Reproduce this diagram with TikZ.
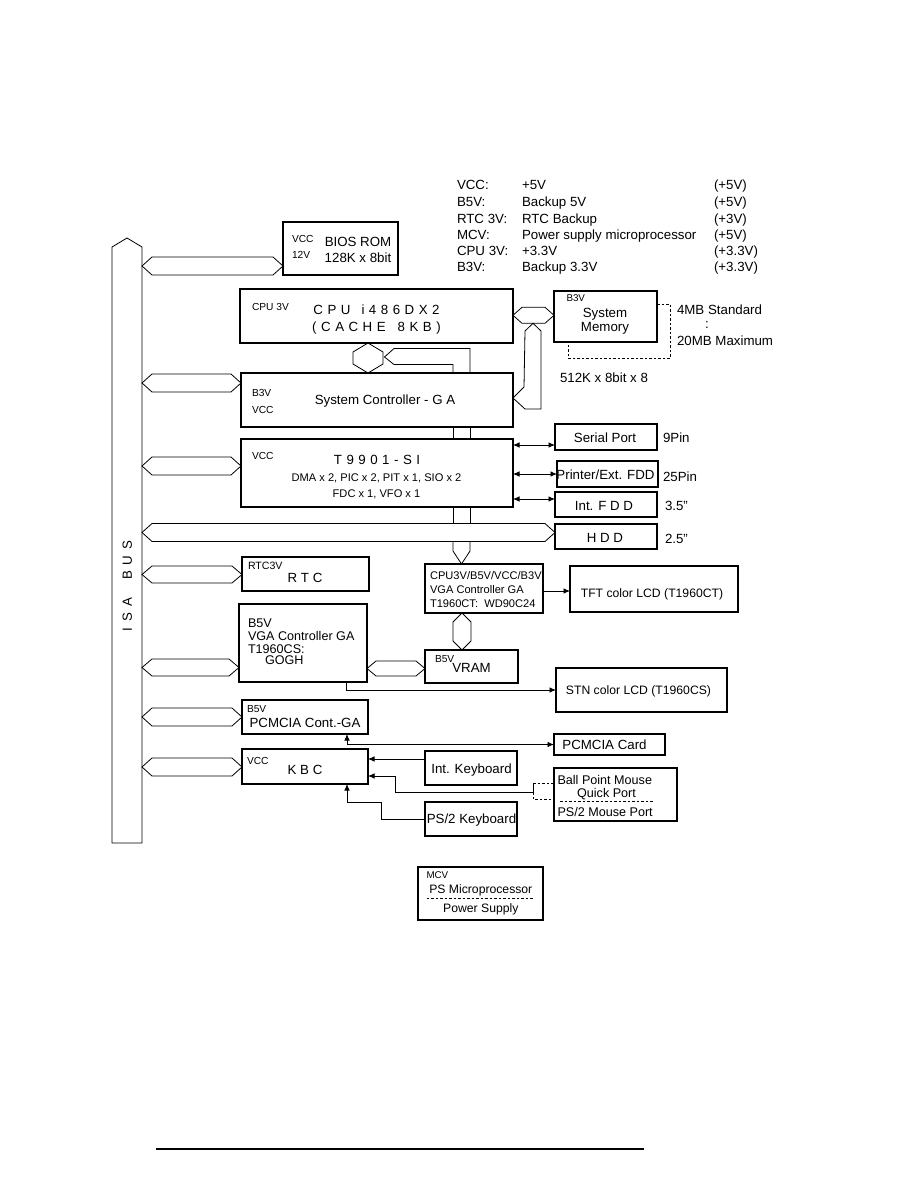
\documentclass[tikz,border=0pt]{standalone}
\usepackage{fontspec}
\setmainfont{Liberation Sans}
\usetikzlibrary{arrows.meta,calc}
\newcommand\fsz[1]{\fontsize{#1}{#1}\selectfont}
\newcommand\gp{\hspace{4.5pt}}
% horizontal double-headed bus: [tip] {left point} {right point} {half height}
\newcommand\hbus[4][10pt]{\draw[bus] let \p1=#2, \p2=#3 in (\x1,\y1) -- (\x1+#1,\y1+#4) -- (\x2-#1,\y1+#4) -- (\x2,\y1) -- (\x2-#1,\y1-#4) -- (\x1+#1,\y1-#4) -- cycle;}
% vertical double-headed bus: [tip] {top point} {bottom point} {half width}
\newcommand\vbus[4][9pt]{\draw[bus] let \p1=#2, \p2=#3 in (\x1,\y1) -- (\x1+#4,\y1-#1) -- (\x1+#4,\y2+#1) -- (\x1,\y2) -- (\x1-#4,\y2+#1) -- (\x1-#4,\y1-#1) -- cycle;}
\begin{document}
\begin{tikzpicture}[x=1pt,y=-1pt,
  every node/.style={inner sep=0pt,outer sep=0pt},
  box/.style={draw,line width=1.4pt},
  T/.style={font=\fsz{13.3},text height=9.5pt,text depth=0pt},
  Ts/.style={font=\fsz{10.2},text height=7.3pt,text depth=0pt},
  Tm/.style={font=\fsz{11.1},text height=8pt,text depth=0pt},
  Tl/.style={font=\fsz{12.6},text height=9pt,text depth=0pt},
  Tx/.style={font=\fsz{12.2},text height=8.7pt,text depth=0pt},
  bus/.style={line width=0.8pt,line join=miter},
  ln/.style={line width=0.8pt},
  arr/.style={-{Latex[length=6.5pt,width=5.5pt]}},
  darr/.style={{Latex[length=6.5pt,width=5.5pt]}-{Latex[length=6.5pt,width=5.5pt]}},
  dsh/.style={dash pattern=on 2.5pt off 2pt}]
\fill[white] (0,0) rectangle (918,1188);
\useasboundingbox (0,0) rectangle (918,1188);

% ---------------- legend
\foreach \n/\yy/\a/\b/\c in {1/185/VCC:/+5V/(+5V), 2/201.7/B5V:/Backup 5V/(+5V), 3/218.3/RTC 3V:/RTC Backup/(+3V), 4/235/MCV:/Power supply microprocessor/(+5V), 5/251/CPU 3V:/+3.3V/(+3.3V), 6/266.7/B3V:/Backup 3.3V/(+3.3V)}{
  \node[T,anchor=west] (la\n) at (457,\yy) {\a};
  \node[T,anchor=west] (lb\n) at (522,\yy) {\b};
  \node[T,anchor=west] (lc\n) at (714,\yy) {\c};
}

% ---------------- ISA bus
\node[minimum width=30pt,minimum height=596pt] (isa) at (127,545) {};
\draw[bus] (isa.south west) -- (isa.north west) -- ($(isa.north)+(0,-9)$) -- (isa.north east) -- (isa.south east) -- cycle;
\node[T,rotate=90] (isatxt) at (127,586) {I\hspace{6pt}S\hspace{6pt}A\hspace{18pt}B\hspace{6pt}U\hspace{6pt}S};

% ---------------- boxes
\node[box,minimum width=115pt,minimum height=53pt] (bios) at (340.5,248.5) {};
\node[Ts,anchor=west] (biosv1) at (292,238.5) {VCC};
\node[Ts,anchor=west] (biosv2) at (292,255) {12V};
\node[T] (biost1) at (358,242) {BIOS ROM};
\node[T] (biost2) at (358,258) {128K x 8bit};

\node[box,minimum width=273pt,minimum height=54pt] (cpu) at (376.5,316) {};
\node[Ts,anchor=west] (cpuv) at (252,307) {CPU 3V};
\node[T] (cput1) at (376.5,310) {C\gp P\gp U\hspace{11pt}i\gp 4\gp 8\gp 6\gp D\gp X\gp 2};
\node[T] (cput2) at (376.5,326.5) {(\gp C\gp A\gp C\gp H\gp E\hspace{12pt}8\gp K\gp B\gp )};

\node[box,minimum width=103pt,minimum height=51pt] (mem) at (605.5,316.5) {};
\node[font=\fsz{9.8},text height=7pt,anchor=west] (memv) at (566.5,298) {B3V};
\node[T] (memt1) at (605,313) {System};
\node[T] (memt2) at (605,327) {Memory};
\node[T,anchor=west] (memn1) at (677,310) {4MB Standard};
\node[T] (memn2) at (707,324) {:};
\node[T,anchor=west] (memn3) at (677,341) {20MB Maximum};
\node[T,anchor=west] (memn4) at (560,378) {512K x 8bit x 8};

\node[box,minimum width=272pt,minimum height=54pt] (sc) at (377,400) {};
\node[Ts,anchor=west] (scv1) at (252,393) {B3V};
\node[Ts,anchor=west] (scv2) at (252,409.5) {VCC};
\node[T] (sct) at (385,400) {System Controller - G A};

\node[box,minimum width=272pt,minimum height=68pt] (t99) at (377,473) {};
\node[Ts,anchor=west] (t99v) at (252,456) {VCC};
\node[T] (t99t1) at (377,459.5) {T\gp 9\gp 9\gp 0\gp 1\gp -\gp S\gp I};
\node[Tm] (t99t2) at (376.5,477) {DMA x 2, PIC x 2, PIT x 1, SIO x 2};
\node[Tm] (t99t3) at (376.5,493) {FDC x 1, VFO x 1};

\node[box,minimum width=102pt,minimum height=26pt] (serial) at (606,437) {};
\node[T] (serialt) at (605,437.5) {Serial Port};
\node[box,minimum width=101pt,minimum height=26pt] (printer) at (607.5,474) {};
\node[T] (printert) at (605.5,474.5) {Printer/Ext. FDD};
\node[box,minimum width=102pt,minimum height=25pt] (intfdd) at (606,504.5) {};
\node[T] (intfddt) at (604,506) {Int. F D D};
\node[box,minimum width=102pt,minimum height=25pt] (hdd) at (606,536.5) {};
\node[T] (hddt) at (605,538) {H D D};
\node[T,anchor=west] (pin9) at (663,438) {9Pin};
\node[T,anchor=west] (pin25) at (663,477) {25Pin};
\node[T,anchor=west] (in35) at (665,506) {3.5"};
\node[T,anchor=west] (in25) at (665,539) {2.5"};

\node[box,minimum width=127pt,minimum height=34pt] (rtc) at (305.5,574) {};
\node[font=\fsz{10.6},text height=7.6pt,anchor=west] (rtcv) at (248,566) {RTC3V};
\node[T] (rtct) at (305,577.5) {R T C};

\node[box,minimum width=128pt,minimum height=78pt] (vgacs) at (303,643) {};
\node[Tl,anchor=west] (vgacs1) at (248,623) {B5V};
\node[Tl,anchor=west] (vgacs2) at (248,636) {VGA Controller GA};
\node[Tl,anchor=west] (vgacs3) at (248,649) {T1960CS:};
\node[Tl,anchor=west] (vgacs4) at (265,659.5) {GOGH};

\node[box,minimum width=118pt,minimum height=49pt] (vgact) at (484,588.5) {};
\node[Tm,anchor=west] (vgact1) at (430,575) {CPU3V/B5V/VCC/B3V};
\node[Tm,anchor=west] (vgact2) at (430,589.5) {VGA Controller GA};
\node[Tm,anchor=west] (vgact3) at (430,603.5) {T1960CT:\ \ WD90C24};

\node[box,minimum width=168pt,minimum height=46pt] (tft) at (654,589) {};
\node[Tx] (tftt) at (652,593.5) {TFT color LCD (T1960CT)};

\node[box,minimum width=93pt,minimum height=33pt] (vram) at (471.5,666.5) {};
\node[Ts,anchor=west] (vramv) at (435,658.5) {B5V};
\node[T] (vramt) at (471.5,667.5) {VRAM};

\node[box,minimum width=171pt,minimum height=44pt] (stn) at (641.5,690) {};
\node[Tx] (stnt) at (638.5,690) {STN color LCD (T1960CS)};

\node[box,minimum width=126pt,minimum height=34pt] (pcmcia) at (305,717) {};
\node[Ts,anchor=west] (pcmv) at (247,708.5) {B5V};
\node[T] (pcmt) at (305,723) {PCMCIA Cont.-GA};

\node[box,minimum width=111pt,minimum height=21pt] (card) at (609.5,744.5) {};
\node[T] (cardt) at (604.5,744.5) {PCMCIA Card};

\node[box,minimum width=126pt,minimum height=35pt] (kbc) at (305,766.5) {};
\node[Ts,anchor=west] (kbcv) at (247,761) {VCC};
\node[T] (kbct) at (305,769.5) {K B C};

\node[box,minimum width=92pt,minimum height=34pt] (intkb) at (471,768) {};
\node[T] (intkbt) at (471.5,769) {Int. Keyboard};

\node[box,minimum width=123pt,minimum height=53pt] (mouse) at (615.5,794.5) {};
\node[Tl,anchor=west] (mouse1) at (557.5,780) {Ball Point Mouse};
\node[Tl] (mouse2) at (606.5,792.5) {Quick Port};
\node[Tl,anchor=west] (mouse3) at (557.5,812) {PS/2 Mouse Port};
\draw[ln,dsh] (560,801) -- (653,801);

\node[box,minimum width=92pt,minimum height=34pt] (ps2kb) at (471,819) {};
\node[T] (ps2kbt) at (471.5,818.5) {PS/2 Keyboard};

\node[box,minimum width=125pt,minimum height=53pt] (mcv) at (480.5,893.5) {};
\node[font=\fsz{9.8},text height=7pt,anchor=west] (mcvv) at (426.5,875) {MCV};
\node[Tx] (mcv1) at (480.8,889.5) {PS Microprocessor};
\draw[ln,dsh] (426.5,898) -- (533.5,898);
\node[Tx] (mcv2) at (480.8,908) {Power Supply};

% ---------------- buses to ISA
\hbus{(isa.east |- 0,266)}{(bios.west |- 0,266)}{9pt}
\hbus{(isa.east |- 0,383)}{(sc.west |- 0,383)}{9pt}
\hbus{(isa.east |- 0,466)}{(t99.west |- 0,466)}{9pt}
\hbus{(isa.east |- 0,532.5)}{(hdd.west |- 0,532.5)}{9pt}
\hbus{(isa.east |- 0,574.5)}{(rtc.west |- 0,574.5)}{8.5pt}
\hbus{(isa.east |- 0,667.5)}{(vgacs.west |- 0,667.5)}{8.5pt}
\hbus{(isa.east |- 0,717)}{(pcmcia.west |- 0,717)}{9pt}
\hbus{(isa.east |- 0,767)}{(kbc.west |- 0,767)}{9pt}
\hbus[9pt]{(vgacs.east |- 0,668.5)}{(vram.west |- 0,668.5)}{7.5pt}

% CPU - memory
\hbus[9pt]{(cpu.east |- 0,315.3)}{(mem.west |- 0,315.3)}{8pt}
% memory branch down to system controller
\draw[bus] (sc.east |- 0,398) -- ++(11,-11) -- (525,331) -- (533,323.3) -- (541,331) -- (541,409) -- (525,409) -- cycle;
% CPU - system controller
\vbus{(cpu.south -| 368,0)}{(sc.north -| 368,0)}{15pt}
% system controller branch to CPU hexagon
\draw[bus] (sc.north -| 453,0) |- (394,364.5) -- (384.5,357) -- (394,348.5) -| (sc.north -| 470,0);
% trunk down to VGA CT
\draw[bus] (sc.south -| 453,0) -- (t99.north -| 453,0);
\draw[bus] (sc.south -| 470,0) -- (t99.north -| 470,0);
\draw[bus] (t99.south -| 453,0) -- (453,523.5);
\draw[bus] (t99.south -| 470,0) -- (470,523.5);
\draw[bus] (453,541.5) -- (453,551) -- (vgact.north -| 461.5,0) -- (470,551) -- (470,541.5);
% VGA CT - VRAM
\vbus{(vgact.south -| 462,0)}{(vram.north -| 462,0)}{9pt}

% memory dashed bracket
\draw[ln,dsh] (mem.east |- 0,304) -| (670,358) -| (mem.south -| 568,0);

% ---------------- signal lines
\draw[ln,darr] (t99.east |- 0,445) -- (serial.west |- 0,445);
\draw[ln,darr] (t99.east |- 0,474) -- (printer.west |- 0,474);
\draw[ln,darr] (t99.east |- 0,499) -- (intfdd.west |- 0,499);
\draw[ln,arr] (vgact.east |- 0,591) -- (tft.west |- 0,591);
\draw[ln,arr] (vgacs.south -| 346,0) |- (stn.west);
\draw[ln,darr] (pcmcia.south -| 347,0) |- (card.west);
\draw[ln,arr] (intkb.west |- 0,759) -- (kbc.east |- 0,759);
\coordinate (mj) at (533,792);
\draw[ln,arr] (mj) -| (395,776) -- (kbc.east |- 0,776);
\draw[ln] (533,783) -- (mj);
\draw[ln,dsh] (mj) -- (533,799) -- (mouse.west |- 0,799);
\draw[ln,dsh] (533,783) -- (mouse.west |- 0,783);
\draw[ln,arr] (ps2kb.west) -| (381,802) -| (kbc.south -| 347,0);

% bottom rule
\draw[line width=2pt] (156,1149) -- (644,1149);
\end{tikzpicture}
\end{document}
